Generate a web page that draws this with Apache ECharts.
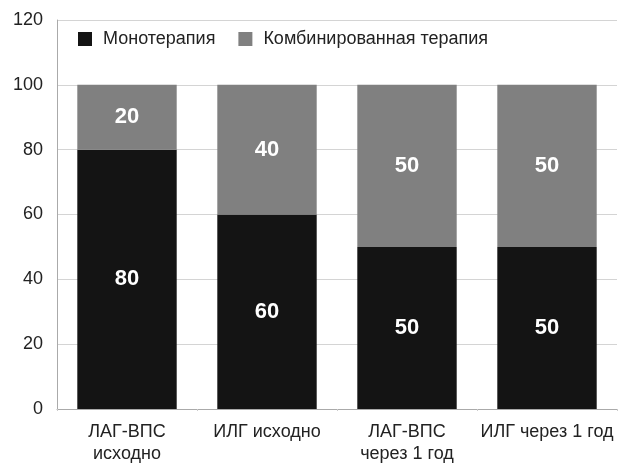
<!DOCTYPE html>
<html><head><meta charset="utf-8">
<script src="https://cdn.jsdelivr.net/npm/echarts@6/dist/echarts.min.js"></script>
<style>html,body{margin:0;padding:0;background:#fff}#c{width:628px;height:475px}</style>
</head><body><div id="c"></div>
<script>
const categories = ['ЛАГ-ВПС\nисходно', 'ИЛГ исходно', 'ЛАГ-ВПС\nчерез 1 год', 'ИЛГ через 1 год'];
const mono = [80, 60, 50, 50];
const combo = [20, 40, 50, 50];
const seriesNames = ['Монотерапия', 'Комбинированная терапия'];

const chart = echarts.init(document.getElementById('c'));
const FONT = 'Liberation Sans, Arial, sans-serif';
const lbl = {show: true, position: 'inside', color: '#fff', fontSize: 22, fontWeight: 'bold', fontFamily: FONT};
chart.setOption({
  animation: false,
  grid: {left: 57, right: 11, top: 20, bottom: 66},
  legend: {
    left: 78, top: 30, itemWidth: 14, itemHeight: 14, itemGap: 23,
    icon: 'rect', padding: 0,
    textStyle: {fontSize: 18, color: '#222', fontFamily: FONT, padding: [0, 0, 0, 6]},
    data: seriesNames
  },
  xAxis: {
    type: 'category', data: categories,
    axisLine: {lineStyle: {color: '#aaa'}},
    axisTick: {show: true, lineStyle: {color: '#ccc'}, length: 2},
    axisLabel: {fontSize: 18, color: '#222', lineHeight: 22, margin: 12, interval: 0, fontFamily: FONT}
  },
  yAxis: {
    type: 'value', min: 0, max: 120, interval: 20,
    axisLine: {show: true, lineStyle: {color: '#aaa'}},
    axisTick: {show: false},
    splitLine: {lineStyle: {color: '#d4d4d4'}},
    axisLabel: {fontSize: 18, color: '#222', margin: 14, fontFamily: FONT}
  },
  series: [
    {name: seriesNames[0], type: 'bar', stack: 's', data: mono, barWidth: '71%', itemStyle: {color: '#141414'}, label: lbl},
    {name: seriesNames[1], type: 'bar', stack: 's', data: combo, barWidth: '71%', itemStyle: {color: '#808080'}, label: lbl}
  ]
});
</script></body></html>
